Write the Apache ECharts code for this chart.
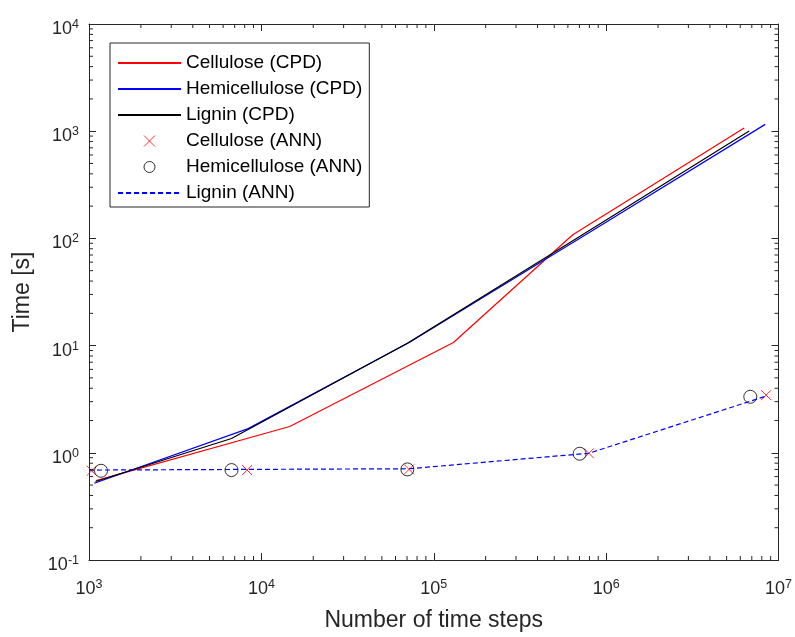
<!DOCTYPE html>
<html><head><meta charset="utf-8">
<script src="https://cdn.jsdelivr.net/npm/echarts@6/dist/echarts.min.js"></script>
<style>html,body{margin:0;padding:0;background:#fff}#c{width:795px;height:637px}</style>
</head><body><div id="c"></div><script>
// ---- data ----
const celluloseCpdX = [1100, 14600, 130000, 640000, 6320000];
const celluloseCpdY = [0.55, 1.76, 10.7, 108, 1072];
const hemiCpdX = [1073, 8380, 72000, 794000, 8370000];
const hemiCpdY = [0.52, 1.68, 10.7, 113, 1158];
const ligninCpdX = [1090, 6710, 70300, 702000, 6760000];
const ligninCpdY = [0.54, 1.36, 10.5, 104, 1006];

const celluloseAnnX = [1036, 8260, 71900, 794000, 8470000];
const celluloseAnnY = [0.68, 0.69, 0.70, 0.99, 3.45];
const hemiAnnX = [1174, 6710, 70300, 702000, 6860000];
const hemiAnnY = [0.68, 0.69, 0.70, 0.98, 3.33];
const ligninAnnX = [1000, 8260, 71900, 794000, 8470000];
const ligninAnnY = [0.69, 0.70, 0.71, 0.99, 3.38];

const seriesNames = ['Cellulose (CPD)', 'Hemicellulose (CPD)', 'Lignin (CPD)',
                     'Cellulose (ANN)', 'Hemicellulose (ANN)', 'Lignin (ANN)'];

const X_MIN = 1e3, X_MAX = 1e7, Y_MIN = 0.1, Y_MAX = 1e4;
const xMinorTicks = [2e3,3e3,4e3,5e3,6e3,7e3,8e3,9e3, 2e4,3e4,4e4,5e4,6e4,7e4,8e4,9e4,
                     2e5,3e5,4e5,5e5,6e5,7e5,8e5,9e5, 2e6,3e6,4e6,5e6,6e6,7e6,8e6,9e6];
const yMinorTicks = [0.2,0.3,0.4,0.5,0.6,0.7,0.8,0.9, 2,3,4,5,6,7,8,9, 20,30,40,50,60,70,80,90,
                     200,300,400,500,600,700,800,900, 2000,3000,4000,5000,6000,7000,8000,9000];

const zip = (xs, ys) => xs.map((x, i) => [x, ys[i]]);
const AX = '#262626';

function supLabel(v) {
  const e = Math.round(Math.log10(v));
  return '{b|10}{s|' + e + '}';
}
const richLbl = {
  b: { fontSize: 18, lineHeight: 22, color: AX, fontFamily: 'Liberation Sans' },
  s: { fontSize: 12.5, lineHeight: 13, verticalAlign: 'top', color: AX, fontFamily: 'Liberation Sans' }
};

const chart = echarts.init(document.getElementById('c'), null, { renderer: 'canvas' });

const baseAxisLine = { show: true, onZero: false, lineStyle: { color: AX, width: 1 } };

chart.setOption({
  animation: false,
  backgroundColor: '#fff',
  grid: { left: 89, right: 16, top: 24, bottom: 70, containLabel: false },
  xAxis: [
    { type: 'log', logBase: 10, min: X_MIN, max: X_MAX, position: 'bottom',
      axisLine: baseAxisLine,
      axisTick: { show: true, inside: true, length: 7, lineStyle: { color: AX } },
      splitLine: { show: false },
      axisLabel: { show: true, margin: 18, formatter: supLabel, rich: richLbl },
      name: 'Number of time steps', nameLocation: 'middle', nameGap: 49,
      nameTextStyle: { fontSize: 23, color: AX, fontFamily: 'Liberation Sans' } },
    { type: 'log', logBase: 10, min: X_MIN, max: X_MAX, position: 'top',
      axisLine: baseAxisLine,
      axisTick: { show: true, inside: true, length: 7, lineStyle: { color: AX } },
      splitLine: { show: false }, axisLabel: { show: false } }
  ],
  yAxis: [
    { type: 'log', logBase: 10, min: Y_MIN, max: Y_MAX, position: 'left',
      axisLine: baseAxisLine,
      axisTick: { show: true, inside: true, length: 7, lineStyle: { color: AX } },
      splitLine: { show: false },
      axisLabel: { show: true, margin: 10, padding: [10, 0, 0, 0], formatter: supLabel, rich: richLbl },
      name: 'Time [s]', nameLocation: 'middle', nameGap: 55,
      nameTextStyle: { fontSize: 23, color: AX, fontFamily: 'Liberation Sans' } },
    { type: 'log', logBase: 10, min: Y_MIN, max: Y_MAX, position: 'right',
      axisLine: baseAxisLine,
      axisTick: { show: true, inside: true, length: 7, lineStyle: { color: AX } },
      splitLine: { show: false }, axisLabel: { show: false } }
  ],
  legend: {
    orient: 'vertical', left: 110, top: 43,
    padding: [10, 7, 4, 7],
    itemWidth: 63, itemHeight: 11, itemGap: 6,
    backgroundColor: '#fff', borderColor: AX, borderWidth: 1, borderRadius: 0,
    itemStyle: { borderWidth: 1 },
    textStyle: { fontSize: 19, lineHeight: 20, color: '#000', fontFamily: 'Liberation Sans' },
    data: seriesNames
  },
  series: [
    { name: seriesNames[0], type: 'line', data: zip(celluloseCpdX, celluloseCpdY),
      symbol: 'none', showSymbol: false, lineStyle: { color: '#ff0000', width: 1.2 }, itemStyle: { color: '#ff0000', opacity: 0 } },
    { name: seriesNames[1], type: 'line', data: zip(hemiCpdX, hemiCpdY),
      symbol: 'none', showSymbol: false, lineStyle: { color: '#0000ff', width: 1.2 }, itemStyle: { color: '#0000ff', opacity: 0 } },
    { name: seriesNames[2], type: 'line', data: zip(ligninCpdX, ligninCpdY),
      symbol: 'none', showSymbol: false, lineStyle: { color: '#000000', width: 1.2 }, itemStyle: { color: '#000000', opacity: 0 } },
    { name: seriesNames[3], type: 'scatter', data: zip(celluloseAnnX, celluloseAnnY),
      symbol: 'path://M0,0L10,10M10,0L0,10', symbolSize: 10,
      itemStyle: { color: 'rgba(0,0,0,0)', borderColor: '#ff0000', borderWidth: 1 } },
    { name: seriesNames[4], type: 'scatter', data: zip(hemiAnnX, hemiAnnY),
      symbol: 'circle', symbolSize: 13,
      itemStyle: { color: 'rgba(0,0,0,0)', borderColor: '#000000', borderWidth: 1 } },
    { name: seriesNames[5], type: 'line', data: zip(ligninAnnX, ligninAnnY),
      symbol: 'none', showSymbol: false,
      lineStyle: { color: '#0000ff', width: 1.2, type: [5, 3] }, itemStyle: { color: '#0000ff', opacity: 0 } },
    { name: 'minorTicks', type: 'custom', silent: true, clip: false, z: 5,
      data: xMinorTicks.map(v => [v, Y_MIN, 0]).concat(yMinorTicks.map(v => [X_MIN, v, 1])),
      renderItem: function (params, api) {
        const kind = api.value(2);
        const st = { stroke: AX, lineWidth: 1 };
        const L = 4;
        if (kind === 0) {
          const v = api.value(0);
          const a = api.coord([v, Y_MIN]), b = api.coord([v, Y_MAX]);
          return { type: 'group', children: [
            { type: 'line', shape: { x1: a[0], y1: a[1], x2: a[0], y2: a[1] - L }, style: st },
            { type: 'line', shape: { x1: b[0], y1: b[1], x2: b[0], y2: b[1] + L }, style: st } ] };
        } else {
          const v = api.value(1);
          const a = api.coord([X_MIN, v]), b = api.coord([X_MAX, v]);
          return { type: 'group', children: [
            { type: 'line', shape: { x1: a[0], y1: a[1], x2: a[0] + L, y2: a[1] }, style: st },
            { type: 'line', shape: { x1: b[0], y1: b[1], x2: b[0] - L, y2: b[1] }, style: st } ] };
        }
      } }
  ]
});
</script></body></html>
